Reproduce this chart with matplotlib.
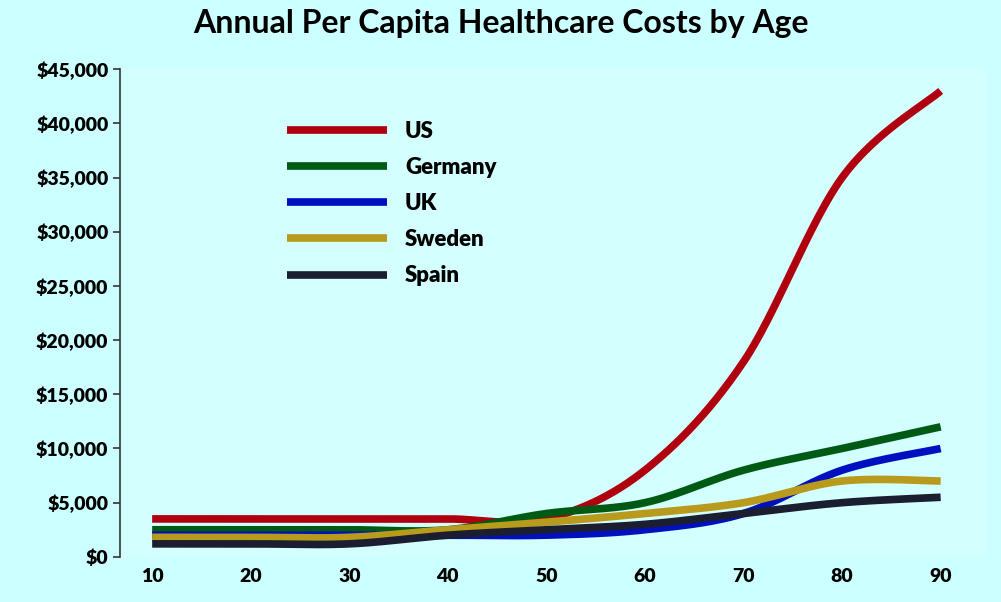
import numpy as np
import matplotlib.pyplot as plt

ages = [10, 20, 30, 40, 50, 60, 70, 80, 90]
us = [3500, 3500, 3500, 3500, 3500, 8000, 18000, 35000, 43000]
germany = [2500, 2500, 2500, 2500, 4000, 5000, 8000, 10000, 12000]
uk = [2000, 2000, 2000, 2000, 2000, 2500, 4000, 8000, 10000]
sweden = [1800, 1800, 1800, 2500, 3200, 4000, 5000, 7000, 7000]
spain = [1200, 1200, 1200, 2000, 2500, 3000, 4000, 5000, 5500]

series = [("US", us, "#b00010"), ("Germany", germany, "#005a14"),
          ("UK", uk, "#0010c0"), ("Sweden", sweden, "#b89a1c"),
          ("Spain", spain, "#1a1e30")]


def smooth(x, y, n=30):
    # catmull-rom style curve through the points, like Excel's smoothed line
    x = np.asarray(x, float)
    y = np.asarray(y, float)
    px = np.concatenate([[x[0]], x, [x[-1]]])
    py = np.concatenate([[y[0]], y, [y[-1]]])
    xs, ys = [], []
    t = np.linspace(0, 1, n)
    for i in range(1, len(px) - 2):
        for arr, out in ((px, xs), (py, ys)):
            p0, p1, p2, p3 = arr[i - 1], arr[i], arr[i + 1], arr[i + 2]
            out.extend(0.5 * (2 * p1 + (-p0 + p2) * t
                              + (2 * p0 - 5 * p1 + 4 * p2 - p3) * t ** 2
                              + (-p0 + 3 * p1 - 3 * p2 + p3) * t ** 3))
    return xs, ys


bg = "#ccffff"
plt.rcParams['font.family'] = ['Lato', 'DejaVu Sans']
fig = plt.figure(figsize=(10.01, 6.02), dpi=100, facecolor=bg)
ax = fig.add_axes([0.12, 0.075, 0.865, 0.81])
ax.set_facecolor("#d4ffff")

for name, vals, col in series:
    sx, sy = smooth(ages, vals)
    ax.plot(sx, sy, color=col, lw=5.5, label=name, solid_capstyle='butt')

ax.set_xlim(6.75, 94.6)
ax.set_ylim(0, 45000)
ax.set_xticks(ages)
ax.set_yticks(np.arange(0, 45001, 5000))
ax.set_yticklabels(["${:,}".format(v) for v in range(0, 45001, 5000)])
for lab in ax.get_xticklabels() + ax.get_yticklabels():
    lab.set_fontweight('heavy')
    lab.set_fontsize(14)
ax.tick_params(axis='x', length=0, pad=8)
ax.tick_params(axis='y', length=5, width=1.2, color="#333333")
for s in ["top", "right", "bottom"]:
    ax.spines[s].set_visible(False)
ax.spines["left"].set_color("#333333")
ax.spines["left"].set_linewidth(1.2)

fig.suptitle("Annual Per Capita Healthcare Costs by Age", fontsize=23,
             fontweight='bold', y=0.985)
leg = ax.legend(loc='upper left', bbox_to_anchor=(0.17, 0.935), frameon=False,
                prop={'weight': 'heavy', 'size': 16}, handlelength=4.5,
                labelspacing=0.68)
fig.savefig("out.png", dpi=100, facecolor=bg)
